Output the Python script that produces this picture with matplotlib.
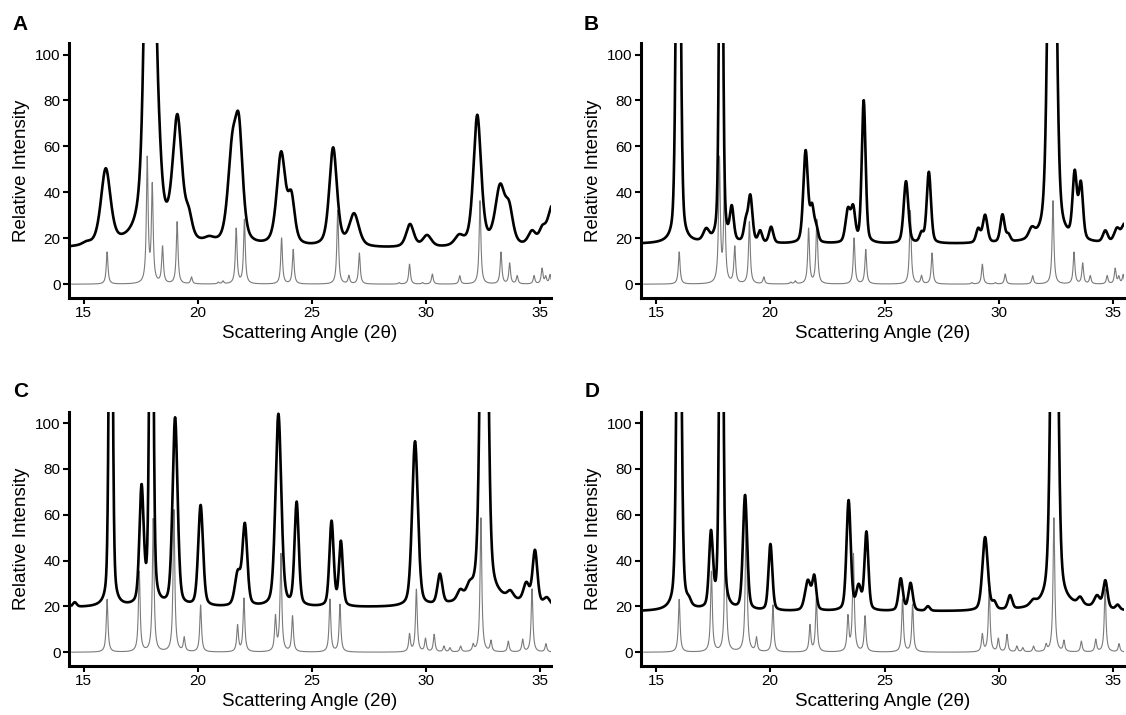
import numpy as np
import matplotlib
matplotlib.use("Agg")
import matplotlib.pyplot as plt

plt.rcParams['font.family'] = ['Liberation Sans', 'DejaVu Sans']

# --- calculated reference patterns (gray): peak position (2theta), height
ref1_pos = [16.02, 17.78, 18.00, 18.45, 19.09, 19.72, 20.90, 21.10, 21.68, 22.04,
            23.67, 24.18, 26.13, 26.62, 27.08, 28.82, 29.28, 29.85, 30.28, 31.48,
            32.37, 33.29, 33.67, 34.00, 34.74, 35.09, 35.25, 35.44]
ref1_amp = [14, 54, 42, 16, 27, 3, 0.7, 1.2, 24, 28,
            20, 15, 32, 3.5, 13.5, 0.6, 8.7, 0.6, 4.4, 3.6,
            36.4, 13.8, 9, 3.5, 3.6, 6.7, 3, 4]

ref2_pos = [16.02, 17.43, 18.04, 18.95, 19.40, 20.12, 21.74, 22.02, 23.40, 23.64,
            24.15, 25.79, 26.23, 29.28, 29.58, 29.98, 30.36, 30.79, 31.05, 31.52,
            32.07, 32.41, 32.85, 33.61, 34.24, 34.65, 35.26]
ref2_amp = [23, 35, 58, 62, 6, 20.5, 11.5, 23.4, 15, 42.6,
            15.6, 23, 20.7, 7.6, 27.3, 5.7, 7.6, 2.5, 1.8, 2.5,
            2.8, 58.7, 4.7, 4.7, 5.4, 27.6, 3.6]

# --- measured patterns (black): position, height above background, FWHM
expA_pos = [15.10, 15.96, 17.90, 18.30, 19.10, 19.60, 20.50, 21.50, 21.80, 23.65,
            24.10, 25.93, 26.85, 29.30, 30.05, 31.45, 32.25, 33.25, 33.65, 34.65,
            35.10, 35.55]
expA_amp = [1, 33, 290, 14, 53, 9, 2, 37, 45, 40,
            19, 43, 14, 10, 5, 4, 57, 25, 14, 6,
            6, 18]
expA_fwhm = [0.4, 0.5, 0.42, 0.3, 0.48, 0.35, 0.5, 0.45, 0.4, 0.45,
             0.35, 0.4, 0.5, 0.4, 0.45, 0.45, 0.4, 0.5, 0.4, 0.4,
             0.35, 0.5]
expA_bg = 15.5

expB_pos = [15.98, 17.20, 17.85, 18.32, 18.93, 19.13, 19.56, 20.04, 21.55, 21.83,
            22.01, 23.40, 23.63, 24.09, 25.94, 26.62, 26.94, 29.10, 29.40, 30.16,
            30.42, 31.44, 32.33, 33.32, 33.59, 34.66, 35.17, 35.50]
expB_amp = [250, 5, 250, 14, 8, 20, 5, 7, 40, 14,
            6, 14, 14, 62, 27, 4, 31, 6, 12, 12,
            3, 4, 300, 28, 24, 5, 6, 8]
expB_fwhm = [0.2, 0.3, 0.16, 0.2, 0.2, 0.22, 0.2, 0.22, 0.24, 0.2,
             0.2, 0.25, 0.22, 0.2, 0.24, 0.2, 0.22, 0.22, 0.24, 0.22,
             0.2, 0.3, 0.33, 0.22, 0.22, 0.25, 0.3, 0.3]
expB_bg = 17.5

expC_pos = [14.60, 16.18, 17.53, 17.96, 19.00, 20.12, 21.75, 22.06, 23.53, 24.33,
            25.86, 26.27, 29.52, 30.61, 31.50, 31.90, 32.55, 33.70, 34.40, 34.78,
            35.30, 33.00]
expC_amp = [2, 250, 50, 250, 82, 44, 14, 35, 84, 45,
            37, 28, 72, 13, 4, 4, 300, 3, 8, 23,
            3, 3]
expC_fwhm = [0.2, 0.16, 0.22, 0.17, 0.26, 0.25, 0.3, 0.25, 0.3, 0.22,
             0.22, 0.2, 0.3, 0.25, 0.3, 0.3, 0.3, 0.3, 0.3, 0.25,
             0.3, 3.0]
expC_bg = 19.5

expD_pos = [16.01, 16.45, 17.41, 17.86, 18.90, 20.01, 21.65, 21.93, 23.43, 23.87,
            24.21, 25.71, 26.14, 26.90, 29.40, 29.80, 30.49, 31.50, 32.43, 33.56,
            34.30, 34.66, 35.20, 33.00]
expD_amp = [250, 2, 32, 250, 50, 29, 13, 14, 48, 10,
            34, 14, 12, 2, 32, 3, 6, 2, 300, 3,
            5, 12, 2, 2]
expD_fwhm = [0.2, 0.2, 0.2, 0.17, 0.22, 0.2, 0.3, 0.2, 0.22, 0.25,
             0.2, 0.22, 0.22, 0.2, 0.28, 0.2, 0.22, 0.3, 0.28, 0.25,
             0.3, 0.22, 0.2, 3.0]
expD_bg = 17.8

two_theta = np.linspace(14.47, 35.5, 3000)


def pattern(x, pos, amp, fwhm, eta, bg=0.0):
    # pseudo-Voigt sum of peaks
    y = np.full_like(x, bg)
    if np.isscalar(fwhm):
        fwhm = [fwhm] * len(pos)
    for p, a, w in zip(pos, amp, fwhm):
        u = ((x - p) / w) ** 2
        y += a * (eta / (1 + 4 * u) + (1 - eta) * np.exp(-4 * np.log(2) * u))
    return y


ref1 = pattern(two_theta, ref1_pos, ref1_amp, 0.09, 1.0)
ref2 = pattern(two_theta, ref2_pos, ref2_amp, 0.09, 1.0)

panels = [
    ("A", ref1, pattern(two_theta, expA_pos, expA_amp, expA_fwhm, 0.5, expA_bg)),
    ("B", ref1, pattern(two_theta, expB_pos, expB_amp, expB_fwhm, 0.35, expB_bg)),
    ("C", ref2, pattern(two_theta, expC_pos, expC_amp, expC_fwhm, 0.35, expC_bg)),
    ("D", ref2, pattern(two_theta, expD_pos, expD_amp, expD_fwhm, 0.35, expD_bg)),
]

fig = plt.figure(figsize=(11.26, 7.15), dpi=100)
rects = [
    [0.0613, 0.5832, 0.428, 0.3566],
    [0.5693, 0.5832, 0.429, 0.3566],
    [0.0613, 0.0685, 0.428, 0.3557],
    [0.5693, 0.0685, 0.429, 0.3557],
]
letter_xy = [(20.5, 24), (591.5, 24), (20.5, 391), (592.5, 391)]

for (letter, ref, exp), rect, (lx, ly) in zip(panels, rects, letter_xy):
    ax = fig.add_axes(rect)
    ax.plot(two_theta, ref, color="#7a7a7a", lw=0.8, zorder=2)
    ax.plot(two_theta, exp, color="black", lw=1.9, zorder=3)
    ax.set_xlim(14.35, 35.48)
    ax.set_ylim(-6, 105)
    ax.set_xticks([15, 20, 25, 30, 35])
    ax.set_yticks([0, 20, 40, 60, 80, 100])
    for s in ["top", "right"]:
        ax.spines[s].set_visible(False)
    for s in ["left", "bottom"]:
        ax.spines[s].set_linewidth(2.2)
    ax.tick_params(direction="out", length=4, width=1.5, labelsize=11, pad=2)
    ax.set_xlabel("Scattering Angle (2θ)", fontsize=13.5, labelpad=3)
    ax.set_ylabel("Relative Intensity", fontsize=13.5, labelpad=4)
    fig.text(lx / 1126, 1 - ly / 715, letter, fontsize=15, fontweight="bold",
             ha="center", va="center")

fig.savefig("out.png", dpi=100)
